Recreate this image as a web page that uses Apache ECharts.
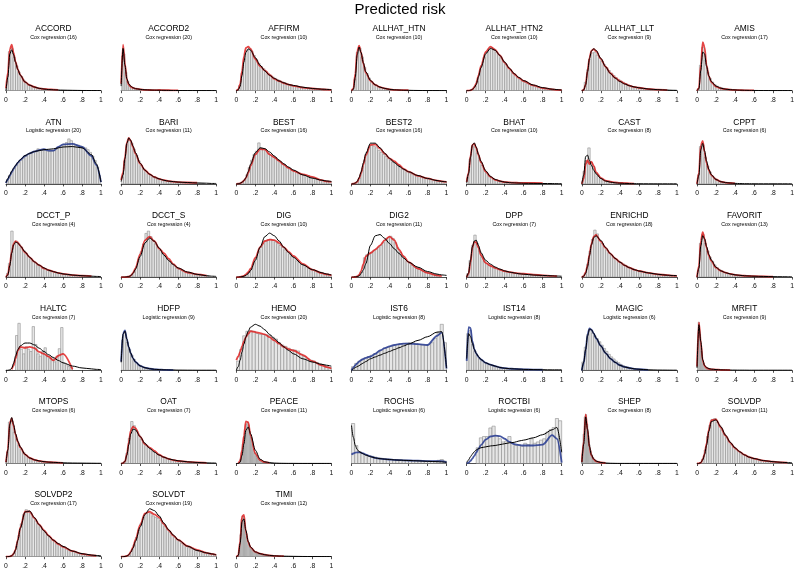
<!DOCTYPE html>
<html><head><meta charset="utf-8">
<script src="https://cdn.jsdelivr.net/npm/echarts@6/dist/echarts.min.js"></script>
<style>html,body{margin:0;padding:0;background:#fff}#c{width:800px;height:571px}</style>
</head><body><div id="c"></div>
<script>
// x positions at which the density curves are read
const X = [0,0.02,0.04,0.06,0.08,0.1,0.125,0.15,0.2,0.25,0.3,0.35,0.4,0.45,0.5,0.55,0.6,0.7,0.8,0.9,0.95,1];
const tickLabels = ['0','.2','.4','.6','.8','1'];

// _k = black density, _f = fitted (red/blue) density, _h = histogram heights
const ACCORD_k=[0,30,80,89,78,62,46,34,19,12,8,5,3.5,2.5,2,1.5,1.2,0.8,0.5,0.4,0.3,0.3];
const ACCORD_f=[5,40,90,100,82,63,46,34,19,12,8,5,4,3,2.5,2,null,null,null,null,null,null];
const ACCORD_h=[20,85,92,72,54,40,31,23,17,14,11,9,7.5,6,5,4,3.5,3,2.5,2,1.8,1.5];

const ACCORD2_k=[10,92,55,26,15,10,6.5,4.5,3,2,1.5,1.2,1,0.8,0.6,0.5,0.4,0.3,0.2,0.2,0.2,0.2];
const ACCORD2_f=[15,100,58,24,13,9,6,4.5,3,2,1.5,1.2,1.5,1,1,0.8,0.5,null,null,null,null,null];
const ACCORD2_h=[75,80,40,20,12,8,6,4.5,3.5,3,2.5,2,1.8,1.6,1.4,1.2,1.1,1,1,0.9,0.9,0.8,0.8,0.7,0.7,0.6,0.6,0.5,0.5,0.5];

const AFFIRM_k=[0,2,10,35,65,87,95,92,75,58,45,35,28,22,18,14,12,8,5,3.5,3,2.5];
const AFFIRM_f=[0,3,15,45,78,97,100,95,72,56,46,36,27,22,17,14,11,7,5,3,2.5,2];
const AFFIRM_h=[12,40,72,92,95,90,80,70,62,55,50,44,39,35,31,28,25,22,20,18,16,14,12.5,11,10,9,8,7.5,7,6,5.5,5,4.5,4,3.5,3.2,3,2.7,2.5];

const ALLHAT_HTN_k=[0,3,30,80,97,85,62,42,23,13,8,5,3,2,1.5,1,0.8,0.5,0.3,0.2,0.2,0.2];
const ALLHAT_HTN_f=[0,5,38,88,100,85,60,40,22,13,8,5,3,2,1.5,1.2,1,null,null,null,null,null];
const ALLHAT_HTN_h=[2,25,85,95,75,52,38,28,20,15,12,9,7,6,5,4,3,2.5,2,1.8,1.5,1.2,1,0.8,0.7,0.5];

const ALLHAT_HTN2_k=[0,0,1,3,7,14,32,52,84,96,92,80,65,51,39,30,23,13,7,3.5,2.5,1.5];
const ALLHAT_HTN2_f=[0,0,1,3,8,16,35,56,88,100,93,80,64,50,38,29,22,12,6,3,2,1.5];
const ALLHAT_HTN2_h=[3,10,22,40,58,75,88,95,98,95,88,82,75,67,60,53,46,40,35,30,26,22,19,16,14,12,10,9,7.5,6.5,5.5,4.5,4,3.5,3,2.5,2,1.5];

const ALLHAT_LLT_k=[0,2,14,45,76,94,100,96,77,57,41,30,22,16,12,9,7,4,2.5,1.5,1,0.8];
const ALLHAT_LLT_f=[0,2,15,47,78,95,99,94,76,57,42,31,23,17,12,9,7,4,2.5,1.5,null,null];
const ALLHAT_LLT_h=[20,50,75,90,92,85,78,70,62,55,48,42,36,31,27,23,20,17,14,12,10,9,7.5,6.5,5.5,4.5,4,3.5,3,2.5,2,1.8,1.5,1.2,1];

const AMIS_k=[0,4,40,76,72,48,29,18,9,5,3,2,1.5,1,0.8,0.6,0.5,0.3,0.2,0.2,0.2,0.2];
const AMIS_f=[0,5,50,95,85,50,28,17,8,4.5,3,2,1.5,1,0.8,0.7,0.5,null,null,null,null,null];
const AMIS_h=[4,50,85,60,36,24,17,12,9,7,5.5,4.5,3.5,3,2.5,2,1.8,1.5,1.2,1,0.9,0.8,0.6];

const ATN_k=[3,12,20,28,35,41,48,54,63,68,72,74,76,77,78,80,82,83,80,65,45,4];
const ATN_f=[2,10,18,26,33,40,47,53,62,68,72,75,77,74,74,82,88,89,82,62,42,4];
const ATN_h=[8,18,27,35,42,48,53,58,62,66,69,71,73,78,76,77,75,73,72,73,74,78,82,85,88,92,100,96,90,87,86,84,82,80,76,70,62,52,38,18];

const BARI_k=[5,20,55,88,100,95,82,68,45,30,21,15,11,8,6,5,4,3,2,1.5,1,1];
const BARI_f=[8,25,58,90,100,94,80,66,44,30,21,15,11,8,6,5,4,3,2.5,null,null,null];
const BARI_h=[15,50,85,95,88,75,62,50,40,33,27,22,18,15,13,11,9.5,8,7,6,5.5,5,4.5,4,3.5,3,3,2.5,2.5,2,2,1.8,1.5,1.5,1.2];

const BEST_k=[0,0.5,1.5,4,8,15,30,48,76,88,86,78,68,58,49,41,34,22,14,9,7,6];
const BEST_f=[0,0.5,1.5,4,8,14,27,44,72,85,84,72,65,56,47,39,32,23,17,9,6,5];
const BEST_h=[4,10,22,40,58,72,80,100,88,86,82,75,70,68,64,58,54,49,45,41,37,34,31,28,26,24,22,21,20,17,15,13,11,10,9,8,7,6];

const BEST2_k=[0,0.5,2,6,15,28,50,72,97,97,86,73,61,51,42,35,29,20,13,8,6,5];
const BEST2_f=[0,0.5,2,5,13,25,46,68,93,94,84,72,61,54,45,36,29,19,13,8,6,5];
const BEST2_h=[5,14,32,55,75,88,92,90,86,80,75,70,65,60,56,52,50,47,40,36,32,29,26,24,22,20,18,16,15,13,12,11,10,9,8,7,6,5];

const BHAT_k=[3,25,65,95,100,90,72,55,32,18,11,7,4.5,3,2.5,2,1.5,1.2,1,0.8,0.6,0.5];
const BHAT_f=[5,28,68,95,98,88,70,53,30,17,10,7,4.5,3.5,3,2.5,2.5,2.5,2,null,null,null];
const BHAT_h=[15,60,92,90,75,58,45,35,27,21,16,12,10,8,6,5,4.5,4,3.5,3,2.5,2.5,2,2,2,1.8,1.5,1.5,1.5,1.2,1.2,1];

const CAST_k=[0,25,76,80,65,52,38,28,15,8,5,3,2,1.5,1,0.7,0.5,0.3,0.2,0.2,0.2,0.2];
const CAST_f=[0,15,55,66,55,62,50,32,17,9,6,4,3,2,1.5,1,null,null,null,null,null,null];
const CAST_h=[35,65,100,60,48,30,22,15,11,8,6,5,4,3,2.5,2,2,1.5,1.2,1,0.8];

const CPPT_k=[0,20,78,92,75,52,33,21,10,5,3,2,1.2,0.8,0.5,0.4,0.3,0.2,0.2,0.2,0.2,0.2];
const CPPT_f=[0,25,88,98,72,48,31,20,10,5,3,2,1.2,null,null,null,null,null,null,null,null,null];
const CPPT_h=[20,85,88,60,40,27,18,13,9,7,5,4,3,2.5,2,1.5];

const DCCT_P_k=[0,5,25,52,70,76,74,68,55,43,33,26,20,15,12,9,7,4.5,3,2,1.5,1.2];
const DCCT_P_f=[0,6,28,55,72,78,75,68,54,43,33,26,19,15,12,9,7,4.5,3,2,null,null];
const DCCT_P_h=[8,30,100,70,78,72,65,58,52,45,40,35,30,27,24,20,18,15,13,12,10,9,8,7,6,5.5,5,4.5,4,3.5,3,3,2.5,2.5,2,2];

const DCCT_S_k=[0,0,0,0.5,1,3,8,17,45,74,85,78,63,48,36,27,20,11,6,3,2,1.5];
const DCCT_S_f=[0,0,0,0.5,1,3,9,19,50,80,88,78,62,52,40,28,19,10,6,3,null,null];
const DCCT_S_h=[2,5,12,22,38,55,72,95,100,88,80,72,65,58,52,46,40,34,28,24,20,17,14,12,10,9,8,7,6,5,4,3.5,3,2.5];

const DIG_k=[0,0,0.5,1,2,4,8,15,38,68,92,100,94,82,68,56,45,28,17,10,7,5];
const DIG_f=[0,0,0.5,1.5,3,6,11,19,44,68,82,85,84,78,68,58,48,30,17,9,6,4];
const DIG_h=[1,3,6,12,20,32,45,58,68,76,82,85,86,84,80,76,72,68,62,57,52,47,42,37,33,29,26,23,20,18,16,14,12,11,9,8,7,5];

const DIG2_k=[0,0,0.5,1,3,8,17,31,74,96,99,90,78,66,55,44,35,23,13,7,5,4];
const DIG2_f=[0,0,0.5,1.5,5,14,30,48,56,64,74,86,94,86,64,48,35,20,10,4,2,null];
const DIG2_h=[4,12,45,52,55,58,62,66,70,74,80,86,92,95,90,80,68,58,50,43,37,32,28,24,21,18,15,13,11,9,8,6,5,4];

const DPP_k=[0,10,40,72,86,88,75,58,40,31,24,19,15,12,10,8,7,5,4,3,2.5,2];
const DPP_f=[0,8,35,70,84,83,70,52,34,27,22,18,14,12,10,9,8,6,4,3,2,null];
const DPP_h=[8,40,75,100,80,62,48,38,32,28,25,22,20,18,16,14,13,12,11,10,9,8,7.5,7,6.5,6,5.5,5,4.5,4,4,3.5,3,3,2.5,2.5];

const ENRICHD_k=[0,2,8,22,45,68,84,88,78,63,50,40,32,25,20,16,13,9,6,4,3.5,3];
const ENRICHD_f=[0,2,10,25,48,70,86,90,76,62,50,40,32,25,20,16,13,9,6,4,3,2.5];
const ENRICHD_h=[1,8,28,55,80,100,92,78,72,65,58,52,47,42,38,34,31,28,25,22,20,18,16,14,13,12,11,10,9,8,7,6.5,6,5.5,5,4.5,4,3.5,3,2.5];

const FAVORIT_k=[0,20,70,92,85,68,50,38,22,14,10,7,5,4,3,2.5,2,1.5,1,0.8,0.7,0.6];
const FAVORIT_f=[0,25,80,100,85,66,48,36,21,14,10,7,5,4,3,2.5,2,1.5,1,null,null,null];
const FAVORIT_h=[15,75,95,75,58,44,35,27,21,17,14,11,9,8,7,6,5,4.5,4,3.5,3,2.5,2.5,2,2,1.8,1.5,1.5,1.2,1.2,1,1];

const HALTC_k=[0,0,1,4,15,30,44,52,58,58,54,47,40,33,27,21,16,9,5,3,2,1.5];
const HALTC_f=[null,null,null,2,10,25,42,50,48,50,47,39,35,29,21,31,35,2,null,null,null,null];
const HALTC_h=[74,100,45,35,50,45,40,93,55,35,30,40,48,30,25,28,18,30,46,91,15,12,8,6];

const HDFP_k=[20,90,98,78,58,43,30,21,11,6.5,4,2.5,1.8,1.2,0.8,0.6,0.5,0.3,0.2,0.2,0.2,0.2];
const HDFP_f=[22,92,100,78,58,43,30,21,11,6.5,4,2.5,1.8,1.2,0.8,0.6,null,null,null,null,null,null];
const HDFP_h=[75,95,70,52,38,27,19,14,10,7.5,5.5,4.5,3.5,2.5,2,1.5,1.2,1,0.8,0.6,0.5,0.4,0.3];

const HEMO_k=[0,8,22,40,57,72,85,94,100,96,88,78,69,60,51,43,36,25,18,13,11,9];
const HEMO_f=[22,30,40,52,63,72,80,85,83,81,78,72,65,58,51,46,43,33,20,11,7,4];
const HEMO_h=[20,45,75,85,86,85,80,78,78,77,76,72,68,60,55,52,48,45,44,42,35,30,25,22,20,17,14,12,9,6];

const IST6_k=[0,3,6,8,10,13,16,19,25,29,33,37,41,45,49,53,57,65,73,83,84,5];
const IST6_f=[0,6,11,15,19,22,25,27,30,36,43,48,52,55,57,58,58,57,55,75,82,4];
const IST6_h=[8,15,20,24,27,30,33,36,40,44,48,50,52,54,56,58,58,59,60,60,58,56,55,54,56,60,70,82,100,60];

const IST14_k=[25,78,72,58,45,36,29,23,16,12,9,6,4.5,3.5,3,2.5,2,1.5,1.2,1,1,1];
const IST14_f=[20,92,90,62,45,36,28,23,16,12,9,6,4.5,3.5,3,2.5,2,1.5,1.2,null,null,null];
const IST14_h=[78,85,55,40,32,25,20,17,14,12,10,8.5,7,6,5,4.5,4,3.5,3,2.8,2.5,2.2,2,1.8,1.5,1.4,1.3,1.2,1.1,1,1,0.9,0.8];

const MAGIC_k=[0,20,50,82,98,97,88,77,58,41,28,19,12,8,5.5,3.5,2.5,1.2,0.6,0.4,0.3,0.3];
const MAGIC_f=[0,18,48,85,100,97,88,76,58,41,28,19,12,8,5.5,3.5,2.5,1.2,null,null,null,null];
const MAGIC_h=[20,55,85,95,88,82,75,68,60,52,45,38,32,27,22,18,14,11,9,7,5.5,4.5,3.5,2.5,2,1.5];

const MRFIT_k=[5,95,60,22,10,6,3.5,2.5,1.5,1,0.7,0.5,0.4,0.3,0.3,0.2,0.2,0.2,0.2,0.2,0.2,0.2];
const MRFIT_f=[8,100,58,20,9,5,3,2,1.5,1,0.8,0.5,null,null,null,null,null,null,null,null,null,null];
const MRFIT_h=[60,100,75,40,22,13,9,6,4.5,3.5,2.8,2.2,1.8,1.5,1.3,1.1,1,0.9,0.8,0.7];

const MTOPS_k=[2,30,85,100,85,65,48,36,20,12,8,5.5,4,3,2.5,2,1.5,1,0.8,0.6,0.5,0.5];
const MTOPS_f=[3,32,88,98,82,63,47,35,20,12,8,5.5,4,3,2.5,2,1.5,null,null,null,null,null];
const MTOPS_h=[25,90,92,68,52,40,31,24,18,14,11,9,7.5,6,5,4.5,4,3.5,3,2.5,2.2,2,1.8,1.5];

const OAT_k=[0,1,5,20,45,70,82,80,64,48,36,27,20,15,11,8.5,6.5,4,2.5,1.5,1.2,1];
const OAT_f=[0,1,5,22,50,78,88,84,64,46,38,30,21,15,11,8,6,4,2.5,1.5,null,null];
const OAT_h=[5,25,60,100,90,78,68,58,50,43,38,34,30,26,22,19,16,14,12,10,9,8,7,6,5,4.5,4,3.5,3,2.5,2.2,2,1.8,1.5,1.2];

const PEACE_k=[0,0,3,19,46,77,85,69,31,10,4,2,1,0.6,0.4,0.3,0.3,0.2,0.2,0.2,0.2,0.2];
const PEACE_f=[null,0,6,31,65,98,96,65,23,8,3,1.5,null,null,null,null,null,null,null,null,null,null];
const PEACE_h=[2,10,25,45,62,80,92,95,90,75,60,45,33,25,18,13,10,7,5,4,3,2.5,2,1.5,1.2,1,0.8];

const ROCHS_k=[95,65,45,35,30,27,24,21,17,14,12,11,10,9,8.5,8,7.5,6.5,5.5,4.5,4,3];
const ROCHS_f=[22,25,27,28,28,27,25,22,18,14,12,11,10,9,8.5,8,7.5,7,6,6,6,3];
const ROCHS_h=[100,45,30,25,22,20,18,16,14,13,12,11,10,10,9,9,8,8,8,7,7,7,6,6,6,6,6,8,10,6];

const ROCTBI_k=[2,8,15,21,26,30,33,35,37,39,40,42,44,46,47,50,52,57,64,75,80,25];
const ROCTBI_f=[0,2,6,11,17,24,33,41,53,60,62,61,55,48,43,41,40,40,42,63,55,2];
const ROCTBI_h=[35,57,60,60,79,83,62,55,48,50,60,45,40,42,38,45,42,55,45,48,52,55,70,75,80,100,95];

const SHEP_k=[2,40,95,70,35,18,9,5,2,1,0.5,0.3,0.2,0.2,0.2,0.2,0.2,0.2,0.2,0.2,0.2,0.2];
const SHEP_f=[3,45,100,68,33,17,8.5,4.5,2,1,null,null,null,null,null,null,null,null,null,null,null,null];
const SHEP_h=[20,60,95,100,80,55,38,26,18,12,9,7,5,4,3,2.5,2,1.5,1.2,1];

const SOLVDP_k=[0,0,2,8,20,40,72,93,97,82,63,47,35,26,19,14,11,6.5,4,2.5,2,1.5];
const SOLVDP_f=[0,0,2,9,22,44,75,96,98,80,62,46,34,26,19,14,11,6.5,4,2.5,2,null];
const SOLVDP_h=[2,10,30,60,85,98,100,92,85,75,66,58,50,43,37,32,28,24,21,18,16,14,12,10.5,9,8,7,6,5.5,5,4.5,4,3.5,3,2.5,2.2,2];

const SOLVDP2_k=[0,0,0.5,2,6,14,35,60,95,97,83,68,55,44,35,28,22,12,6.5,3.5,2.5,2];
const SOLVDP2_f=[0,0,0.5,2,6,15,36,62,96,96,82,68,56,45,35,27,21,12,6,3,2,null];
const SOLVDP2_h=[2,8,22,45,70,90,100,98,92,84,76,70,64,58,52,46,41,37,33,29,26,23,20,17,15,13,11,9.5,8,7,6,5,4.5,4,3.5,3,2.5];

const SOLVDT_k=[0,0,0.5,1.5,4,9,18,32,62,88,100,96,85,70,56,45,35,22,13,8,6,4];
const SOLVDT_f=[0,0,0.5,1.5,4,10,20,35,66,90,94,88,82,68,55,44,35,22,14,8,6,4];
const SOLVDT_h=[1,4,12,25,40,55,70,82,90,93,90,85,82,80,75,70,64,58,52,46,41,36,32,28,25,22,19,17,15,13,11,10,9,8,7,6,5,4];

const TIMI_k=[0,3,30,80,86,60,35,22,11,7,4.5,3,2,1.5,1.2,1,0.8,0.5,0.4,0.3,0.3,0.3];
const TIMI_f=[0,3,35,92,95,58,33,21,11,7,4.5,3,2,1.5,1.2,null,null,null,null,null,null,null];
const TIMI_h=[15,50,85,92,80,60,45,35,28,22,18,15,12,10,8.5,7.5,6.5,5.5,5,4.5,4,3.5,3,2.8,2.5,2.2,2,1.8,1.6,1.5,1.4,1.3,1.2,1.1,1,1];

// name, subtitle, fit colour, black, fit, histogram, first bin edge, bin width
const panels = [
 ['ACCORD','Cox regression (16)','r',ACCORD_k,ACCORD_f,ACCORD_h,0,0.025],
 ['ACCORD2','Cox regression (20)','r',ACCORD2_k,ACCORD2_f,ACCORD2_h,0,0.02],
 ['AFFIRM','Cox regression (10)','r',AFFIRM_k,AFFIRM_f,AFFIRM_h,0.025,0.025],
 ['ALLHAT_HTN','Cox regression (10)','r',ALLHAT_HTN_k,ALLHAT_HTN_f,ALLHAT_HTN_h,0,0.025],
 ['ALLHAT_HTN2','Cox regression (10)','r',ALLHAT_HTN2_k,ALLHAT_HTN2_f,ALLHAT_HTN2_h,0.05,0.025],
 ['ALLHAT_LLT','Cox regression (9)','r',ALLHAT_LLT_k,ALLHAT_LLT_f,ALLHAT_LLT_h,0.025,0.025],
 ['AMIS','Cox regression (17)','r',AMIS_k,AMIS_f,AMIS_h,0,0.025],
 ['ATN','Logistic regression (20)','b',ATN_k,ATN_f,ATN_h,0,0.025],
 ['BARI','Cox regression (11)','r',BARI_k,BARI_f,BARI_h,0,0.025],
 ['BEST','Cox regression (16)','r',BEST_k,BEST_f,BEST_h,0.05,0.025],
 ['BEST2','Cox regression (16)','r',BEST2_k,BEST2_f,BEST2_h,0.05,0.025],
 ['BHAT','Cox regression (10)','r',BHAT_k,BHAT_f,BHAT_h,0,0.025],
 ['CAST','Cox regression (8)','r',CAST_k,CAST_f,CAST_h,0.0125,0.025],
 ['CPPT','Cox regression (6)','r',CPPT_k,CPPT_f,CPPT_h,0,0.025],
 ['DCCT_P','Cox regression (4)','r',DCCT_P_k,DCCT_P_f,DCCT_P_h,0,0.025],
 ['DCCT_S','Cox regression (4)','r',DCCT_S_k,DCCT_S_f,DCCT_S_h,0.075,0.025],
 ['DIG','Cox regression (10)','r',DIG_k,DIG_f,DIG_h,0.05,0.025],
 ['DIG2','Cox regression (11)','r',DIG2_k,DIG2_f,DIG2_h,0.075,0.025],
 ['DPP','Cox regression (7)','r',DPP_k,DPP_f,DPP_h,0,0.025],
 ['ENRICHD','Cox regression (18)','r',ENRICHD_k,ENRICHD_f,ENRICHD_h,0,0.025],
 ['FAVORIT','Cox regression (13)','r',FAVORIT_k,FAVORIT_f,FAVORIT_h,0,0.025],
 ['HALTC','Cox regression (7)','r',HALTC_k,HALTC_f,HALTC_h,0.1,0.025],
 ['HDFP','Logistic regression (9)','b',HDFP_k,HDFP_f,HDFP_h,0,0.025],
 ['HEMO','Cox regression (20)','r',HEMO_k,HEMO_f,HEMO_h,0,1/30],
 ['IST6','Logistic regression (8)','b',IST6_k,IST6_f,IST6_h,0,1/30],
 ['IST14','Logistic regression (8)','b',IST14_k,IST14_f,IST14_h,0,0.025],
 ['MAGIC','Logistic regression (6)','b',MAGIC_k,MAGIC_f,MAGIC_h,0,0.025],
 ['MRFIT','Cox regression (9)','r',MRFIT_k,MRFIT_f,MRFIT_h,0,0.0125],
 ['MTOPS','Cox regression (6)','r',MTOPS_k,MTOPS_f,MTOPS_h,0,0.025],
 ['OAT','Cox regression (7)','r',OAT_k,OAT_f,OAT_h,0.025,0.025],
 ['PEACE','Cox regression (11)','r',PEACE_k,PEACE_f,PEACE_h,0.025,0.0125],
 ['ROCHS','Logistic regression (6)','b',ROCHS_k,ROCHS_f,ROCHS_h,0,1/30],
 ['ROCTBI','Logistic regression (6)','b',ROCTBI_k,ROCTBI_f,ROCTBI_h,0.1,1/30],
 ['SHEP','Cox regression (8)','r',SHEP_k,SHEP_f,SHEP_h,0,0.0125],
 ['SOLVDP','Cox regression (11)','r',SOLVDP_k,SOLVDP_f,SOLVDP_h,0.025,0.025],
 ['SOLVDP2','Cox regression (17)','r',SOLVDP2_k,SOLVDP2_f,SOLVDP2_h,0.05,0.025],
 ['SOLVDT','Cox regression (19)','r',SOLVDT_k,SOLVDT_f,SOLVDT_h,0.05,0.025],
 ['TIMI','Cox regression (12)','r',TIMI_k,TIMI_f,TIMI_h,0.025,0.0125]
];

// layout: pixel height of each panel's tallest mark
const peakPx = [46,46,44,45,44,42,51, 45,46,41,42,41,36,44, 46,46,44,43,42,47,45, 47,40,46,46,47,42,48, 46,42,43,40,45,49,45, 47,48,44];

const FONT = '"Liberation Sans", Arial, Helvetica, sans-serif';
const RED = 'rgba(222,28,28,0.82)';
const BLUE = 'rgba(36,56,145,0.85)';
const PH = 52;

const title = [{text:'Predicted risk', left:400, top:2, textAlign:'center', padding:0,
  textStyle:{fontSize:15, fontWeight:'normal', color:'#000', fontFamily:FONT}}];
const grid = [], xAxis = [], yAxis = [], series = [];

panels.forEach((p, i) => {
  const r = Math.floor(i / 7), c = i % 7;
  const left = 6 + 115.17 * c;
  const base = 90.7 + 93.2 * r;
  grid.push({left: left, top: base - PH, width: 95, height: PH});
  xAxis.push({gridIndex: i, type: 'value', min: 0, max: 1, interval: 0.2, offset: 4,
    axisLine: {show: true, lineStyle: {color: '#222', width: 0.8}},
    axisTick: {show: true, length: 2.5, lineStyle: {color: '#222', width: 0.8}},
    axisLabel: {fontSize: 6.8, margin: 2, color: '#111', fontFamily: FONT,
      formatter: v => tickLabels[Math.round(v * 5)]},
    splitLine: {show: false}});
  yAxis.push({gridIndex: i, type: 'value', min: 0, max: 100 * PH / peakPx[i], show: false});
  title.push({text: p[0], subtext: p[1], left: left + 47.5, top: base - 65.6, textAlign: 'center',
    itemGap: 2.2, padding: 0,
    textStyle: {fontSize: 8.4, fontWeight: 'normal', color: '#000', fontFamily: FONT},
    subtextStyle: {fontSize: 5.3, color: '#000', fontFamily: FONT}});
  const b0 = p[6], bw = p[7];
  const hd = p[5].map((h, j) => [b0 + j * bw, b0 + (j + 1) * bw, h]);
  series.push({type: 'custom', xAxisIndex: i, yAxisIndex: i, data: hd, silent: true, clip: true,
    encode: {x: [0, 1], y: 2},
    renderItem: (params, api) => {
      const a = api.coord([api.value(0), 0]);
      const b = api.coord([api.value(1), api.value(2)]);
      return {type: 'rect', shape: {x: a[0], y: b[1], width: b[0] - a[0], height: a[1] - b[1]},
        style: {fill: '#e6e6e6', stroke: '#8e8e8e', lineWidth: 0.6}};
    }});
  const fitData = X.map((x, j) => [x, p[4][j]]).filter(d => d[1] !== null);
  series.push({type: 'line', xAxisIndex: i, yAxisIndex: i, data: fitData, smooth: 0.3,
    smoothMonotone: 'x', showSymbol: false, silent: true, clip: true,
    lineStyle: {color: p[2] === 'r' ? RED : BLUE, width: 1.8}});
  const kData = X.map((x, j) => [x, p[3][j]]);
  series.push({type: 'line', xAxisIndex: i, yAxisIndex: i, data: kData, smooth: 0.3,
    smoothMonotone: 'x', showSymbol: false, silent: true, clip: true,
    lineStyle: {color: '#000', width: 1}});
});

const chart = echarts.init(document.getElementById('c'), null, {renderer: 'canvas'});
chart.setOption({animation: false, backgroundColor: '#fff', title, grid, xAxis, yAxis, series});
</script></body></html>
